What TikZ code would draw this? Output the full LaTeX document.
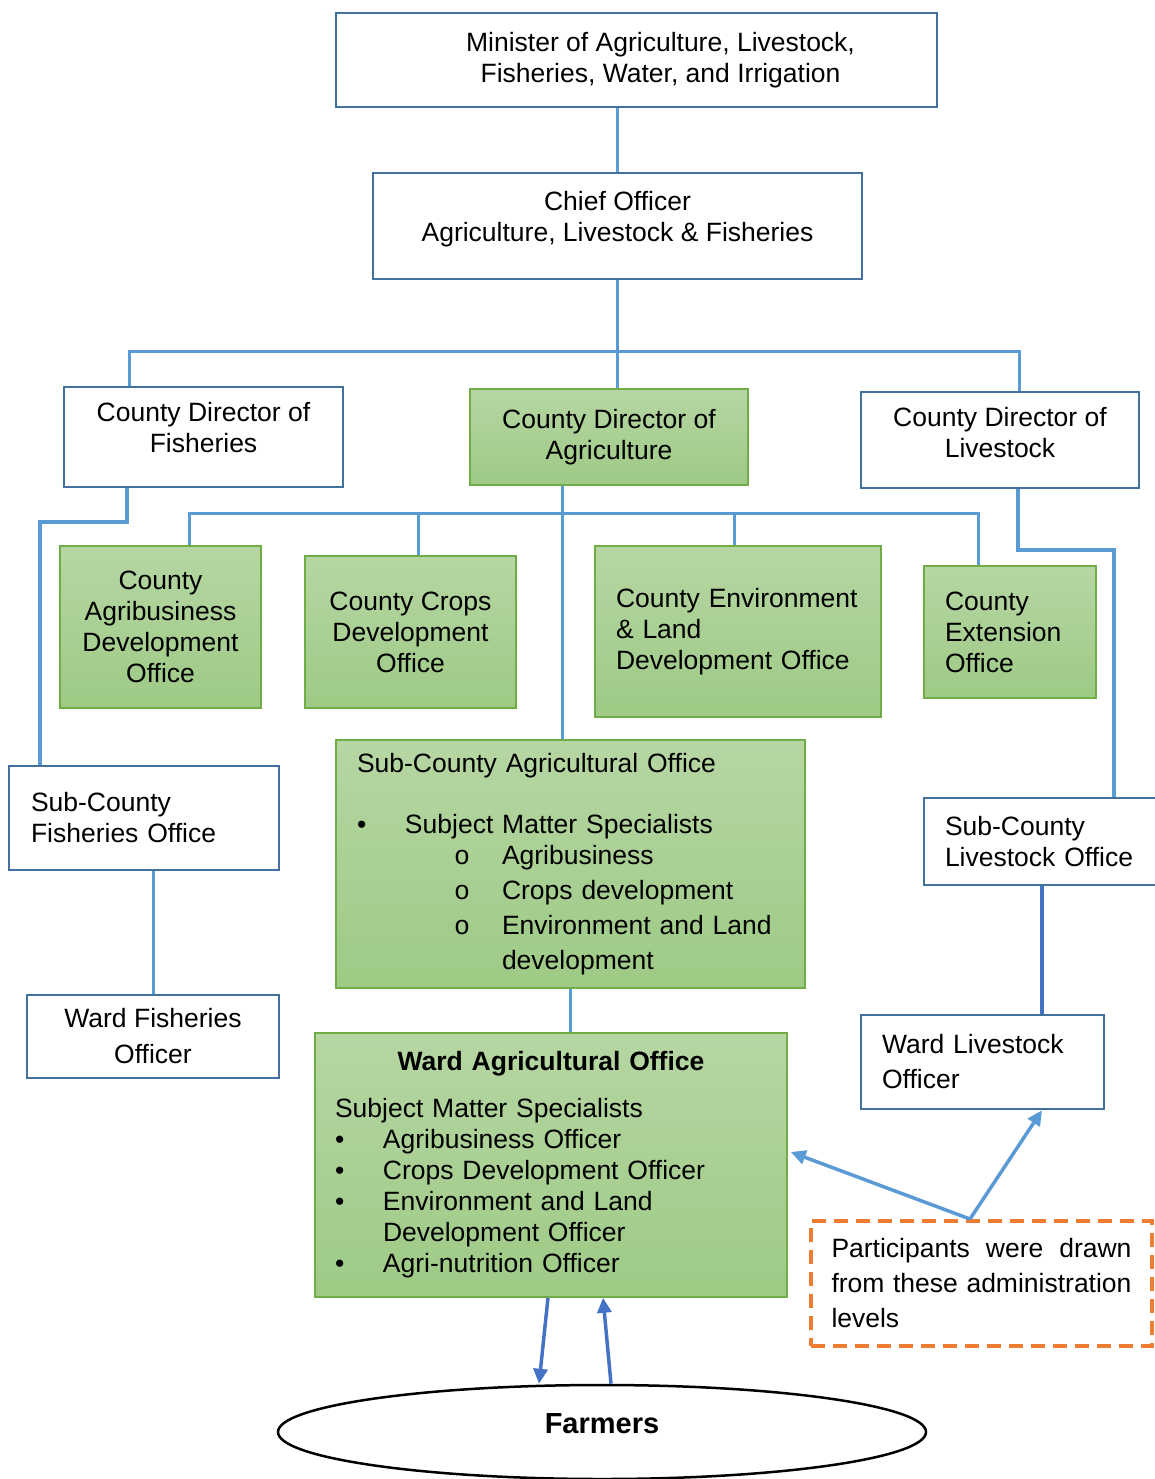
\documentclass[tikz,border=0pt]{standalone}
\usepackage{fontspec}
\setmainfont{Liberation Sans}
\newfontfamily\bulletfont{Liberation Mono}
\usetikzlibrary{calc,shapes.geometric,arrows.meta}
\definecolor{boxblue}{RGB}{65,113,156}
\definecolor{lineblue}{RGB}{91,155,213}
\definecolor{arrowblue}{RGB}{68,114,196}
\definecolor{grnline}{RGB}{112,173,71}
\definecolor{grntop}{RGB}{182,214,163}
\definecolor{grnbot}{RGB}{158,202,133}
\definecolor{dashorange}{RGB}{237,125,49}

\tikzset{
	office/.style={draw=boxblue, line width=2.5pt, fill=white, inner sep=0pt, align=center, font=\fontsize{26.5}{31}\selectfont},
	greenoffice/.style={office, draw=grnline, line width=1.5pt, top color=grntop, bottom color=grnbot},
	link/.style={draw=lineblue, line width=3pt},
	thicklink/.style={draw=lineblue, line width=4.5pt},
	pointer/.style={draw=lineblue, line width=3.5pt, -{Triangle[length=15pt,width=14pt]}},
}

\begin{document}
\begin{tikzpicture}[x=1pt,y=-1pt]
				\useasboundingbox (0,0) rectangle (1154,1479);
				
				\node[office, minimum width=601pt, minimum height=94pt] (min) at (636.5,60)
				{\hspace*{48pt}Minister of Agriculture, Livestock,\\ \hspace*{48pt}Fisheries, Water, and Irrigation};
				\node[office, minimum width=489pt, minimum height=106pt, text depth=20pt] (chief) at (617.5,226)
				{Chief Officer\\Agriculture, Livestock \& Fisheries};
				
				\node[office, minimum width=279pt, minimum height=100pt, text depth=19pt] (fish) at (203.5,437) {County Director of\\Fisheries};
				\node[greenoffice, minimum width=278pt, minimum height=96pt] (agr) at (609,437) {County Director of\\Agriculture};
				\node[office, minimum width=278pt, minimum height=96pt, text depth=15pt] (lvs) at (1000,440) {County Director of\\Livestock};
				
				\node[greenoffice, minimum width=201pt, minimum height=162pt] (agbiz) at (160.5,627) {County\\Agribusiness\\Development\\Office};
				\node[greenoffice, minimum width=211pt, minimum height=152pt] (crops) at (410.5,632) {County Crops\\Development\\Office};
				\node[greenoffice, minimum width=286pt, minimum height=171pt, text width=244pt, align=left] (env) at (738,631.5)
				{County Environment\\\& Land\\Development Office};
				\node[greenoffice, minimum width=172pt, minimum height=132pt, text width=130pt, align=left] (ext) at (1010,632)
				{County\\Extension\\Office};
				
				\node[office, minimum width=270pt, minimum height=104pt, text width=226pt, align=left] (scfish) at (144,818)
				{Sub-County\\Fisheries Office};
				\node[office, minimum width=252pt, minimum height=83pt] (wfish) at (153,1036.5) {Ward Fisheries\\[5pt]Officer};
				
				\node[greenoffice, minimum width=469pt, minimum height=248pt, text width=427pt, align=left] (scagr) at (570.5,864)
				{Sub-County Agricultural Office\\[30pt]
					\makebox[48pt][l]{•}Subject Matter Specialists\\
					\hspace*{97pt}\makebox[48pt][l]{\bulletfont o}Agribusiness\\[4pt]
					\hspace*{97pt}\makebox[48pt][l]{\bulletfont o}Crops development\\[4pt]
					\hspace*{97pt}\makebox[48pt][l]{\bulletfont o}Environment and Land\\[4pt]
					\hspace*{145pt}development};
				\node[greenoffice, minimum width=472pt, minimum height=264pt, text width=432pt, align=left] (wagr) at (551,1165)
				{\makebox[432pt]{\bfseries Ward Agricultural Office}\\[16pt]
					Subject Matter Specialists\\
					\makebox[48pt][l]{•}Agribusiness Officer\\
					\makebox[48pt][l]{•}Crops Development Officer\\
					\makebox[48pt][l]{•}Environment and Land\\
					\hspace*{48pt}Development Officer\\
					\makebox[48pt][l]{•}Agri-nutrition Officer};
				
				\node[office, minimum width=236pt, minimum height=87pt, text width=194pt, align=left] (sclvs) at (1042,841.5)
				{Sub-County\\Livestock Office};
				\node[office, minimum width=243pt, minimum height=94pt, text width=201pt, align=left] (wlvs) at (982.5,1062)
				{Ward Livestock\\[4pt]Officer};
				
				\node[draw=dashorange, line width=4.5pt, dash pattern=on 14pt off 8pt, inner sep=0pt, minimum width=341pt, minimum height=125pt,
				text width=300pt, align=justify, font=\fontsize{26.5}{35}\selectfont] (part) at (981.5,1283.5)
				{Participants were drawn from these administration levels};
				
				\node[ellipse, draw, line width=2.5pt, minimum width=648pt, minimum height=94pt, inner sep=0pt, text depth=16pt,
				font=\fontsize{29}{31}\selectfont\bfseries] (farm) at (602,1432) {Farmers};
				
				\coordinate (barL) at (129,351);
				\coordinate (barR) at (1019,351);
				\coordinate (fishtop) at (127,522);
				\coordinate (fishleft) at (40,522);
				\coordinate (agrbar) at (562,513);
				\coordinate (agrL) at (189,513);
				\coordinate (agrR) at (978,513);
				\coordinate (lvstop) at (1018,550);
				\coordinate (lvsright) at (1114,550);
				\coordinate (partpt) at (970,1219);
				
				\draw[link] (min.south -| chief.north) -- (chief.north);
				\draw[link] (chief.south) -- (chief.south |- agr.north);
				\draw[link] (fish.north -| barL) -- (barL) -- (barR) -- (lvs.north -| barR);
				
				\draw[thicklink] (fish.south -| fishtop) -- (fishtop) -- (fishleft) -- (scfish.north -| fishleft);
				\draw[link] (scfish.south -| wfish.north) -- (wfish.north);
				
				\draw[link] (agr.south -| agrbar) -- (scagr.north -| agrbar);
				\draw[link] (agbiz.north -| agrL) -- (agrL) -- (agrR) -- (ext.north -| agrR);
				\foreach \x/\n in {418/crops,734/env}{
					\draw[link] (\x,513) -- (\n.north -| \x,513);}
				\draw[link] (scagr.south) -- (scagr.south |- wagr.north);
				
				\draw[thicklink] (lvs.south -| lvstop) -- (lvstop) -- (lvsright) -- (sclvs.north -| lvsright);
				\draw[draw=arrowblue, line width=4pt] (sclvs.south) -- (sclvs.south |- wlvs.north);
				
				\draw[pointer] (partpt) -- ($(wagr.east)+(3,-13)$);
				\draw[pointer] (partpt) -- (wlvs.south -| sclvs.south);
				
				\draw[pointer, draw=arrowblue] ($(wagr.south)+(-3,0)$) -- ($(farm.north)+(-63,0)$);
				\draw[pointer, draw=arrowblue] ($(farm.north)+(9,0)$) -- ($(wagr.south)+(52,0)$);
			\end{tikzpicture}
\end{document}
